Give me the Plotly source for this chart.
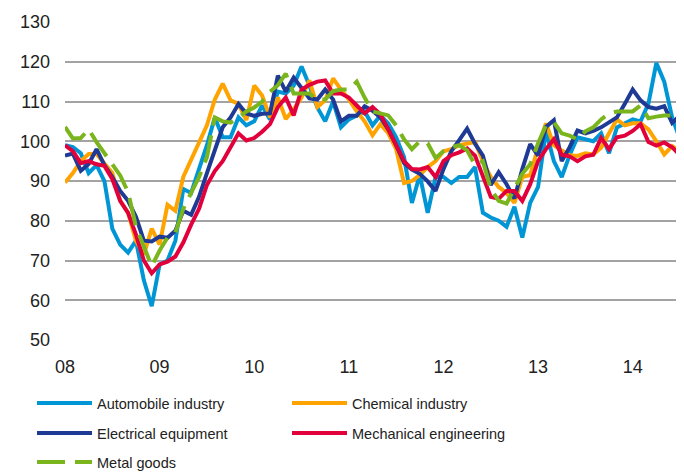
import plotly.graph_objects as go

# Monthly index values, Jan 2008 - Jul 2014
month_index = list(range(79))
tick_positions = [0, 12, 24, 36, 48, 60, 72]
tick_labels = ["08", "09", "10", "11", "12", "13", "14"]

automobile = [99, 98.5, 97, 92, 94, 90, 78, 74, 72, 75, 65, 58.5,
              69, 70, 75, 88, 87, 93, 99, 106, 101, 101, 106, 104,
              105, 109, 105.5, 112.5, 112, 114, 118.8, 114, 108.5, 105, 110, 103.5,
              105.5, 106.5, 107.5, 104, 106.5, 104.5, 101, 96, 84.5, 91.5, 82, 91,
              91, 89.5, 91, 91, 93.5, 82, 80.8, 80, 78.5, 83.5, 75.8, 84.5,
              88.5, 102.5, 95, 91, 96.5, 101, 100.5, 100, 102, 97, 103.5, 104.5,
              105.5, 105, 109.5, 119.7, 115, 106, 100.5]

chemical = [89.6, 92, 95, 96.8, 96.8, 94.5, 92, 85, 82, 75, 71.5, 78,
            74, 84, 82.5, 91, 95.5, 100, 104, 110.5, 114.5, 110.3, 109.4, 105.3,
            114, 111.5, 106, 111, 105.6, 108, 111, 115.3, 108.6, 110.3, 115.8, 113,
            110.5, 107.5, 105, 101.5, 104.3, 102, 98, 89.5, 90, 91.5, 93.5, 95,
            97.5, 98, 99, 99.4, 99.8, 95, 91, 88.5, 87, 84.5, 91, 91.5,
            98.5, 104.5, 99, 97.7, 96.5, 96.3, 97, 96.7, 98.4, 102, 105.5, 104,
            104.5, 104.5, 103, 100, 96.7, 98.8, 97.5]

electrical = [96.4, 96.9, 92.6, 94.3, 98, 94, 91, 87.5, 85, 81, 75, 74.8,
              76, 75.7, 77.5, 82.5, 81.5, 86, 92, 97.5, 103.5, 106, 109.4, 107,
              106.4, 106.9, 107, 116.5, 112.5, 116, 113.5, 110.8, 110.5, 113, 110.5, 105,
              106.4, 106.4, 108.8, 107.7, 106, 103, 99, 94.5, 92.9, 91.8, 89.9, 87.5,
              93, 97.5, 100.3, 103.2, 99.4, 96.4, 89, 92.2, 89.2, 85.6, 93, 99.3,
              96.4, 103.6, 105.3, 95, 98.5, 102.7, 102, 102.6, 103.5, 104.7, 106, 109.4,
              113, 110.3, 108.6, 108.2, 108.8, 104.6, 106.5]

mechanical = [99, 97.5, 94.5, 95, 94.2, 93.8, 90.5, 85, 82, 76.5, 70, 66.8,
              69, 69.7, 71, 74.5, 79, 83, 89, 92.5, 95, 98.5, 102, 100.2,
              100.8, 102.4, 104.3, 108.6, 111, 106.5, 113, 114.2, 115, 115.3, 112, 112,
              111, 109, 107, 108.6, 106.8, 103, 99, 95, 93, 92.9, 93.5, 91,
              95, 96.5, 97.2, 98.2, 96.4, 91.4, 86, 85.5, 87.5, 87.5, 85, 89.2,
              95, 98, 100.5, 96.6, 96.2, 95, 96.2, 96.6, 100.8, 98, 101, 101.4,
              102.6, 104.3, 99.8, 98.9, 99.7, 98.5, 96.5]

metal = [103.6, 100.7, 100.8, 103, 99.8, 97, 94, 91.4, 87.2, 78.5, 73.5, 68.6,
         72.5, 75.8, 77, 83, 87, 91, 96, 106, 105, 104.7, 106, 107.5,
         108.5, 110, 112.5, 114.1, 117, 112, 112, 112, 110.5, 110.5, 112.6, 113,
         113, 115, 111, 107.5, 107, 106.5, 104, 100.5, 98, 100, 99.5, 95.8,
         97.5, 98.5, 99, 97.7, 94, 95, 88, 85, 84.3, 88, 91.8, 94.2,
         99.5, 104, 104.8, 102, 101.4, 100.5, 102.5, 103.5, 105.5, 107, 107.5, 107.5,
         107.5, 109, 105.8, 106.2, 106.5, 106.5, 107]

series = [
    ("Automobile industry", automobile, "#0096D6", "solid", "legend"),
    ("Chemical industry", chemical, "#FFA300", "solid", "legend"),
    ("Electrical equipment", electrical, "#1E3A94", "solid", "legend2"),
    ("Mechanical engineering", mechanical, "#E2003C", "solid", "legend2"),
    ("Metal goods", metal, "#7AB51D", "28px,10px", "legend3"),
]

fig = go.Figure()
for name, vals, color, dash, leg in series:
    fig.add_trace(go.Scatter(
        x=month_index, y=vals, name=name, mode="lines",
        line=dict(color=color, width=4, dash=dash),
        legend=leg,
    ))

legend_font = dict(family="Liberation Sans, Arial", size=14.5, color="#222222")
common_legend = dict(orientation="h", xanchor="left", yanchor="middle",
                     entrywidth=185, entrywidthmode="pixels", itemwidth=55,
                     font=legend_font, bgcolor="rgba(0,0,0,0)", borderwidth=0)

# page has an 8px body margin; the figure is sized to fit the 684x473 window
def paper_y(py):
    return (340 - py) / 318.0

lx = (32 - 65) / 615.0

fig.update_layout(
    width=676, height=465,
    margin=dict(l=57, r=4, t=14, b=133, autoexpand=False),
    paper_bgcolor="white", plot_bgcolor="white",
    font=dict(family="Liberation Sans, Arial", size=18, color="#222222"),
    showlegend=True,
    legend=dict(common_legend, x=lx, y=paper_y(403)),
    legend2=dict(common_legend, x=lx, y=paper_y(433)),
    legend3=dict(common_legend, x=lx, y=paper_y(462)),
    xaxis=dict(range=[0, 78], tickmode="array", tickvals=tick_positions, ticktext=tick_labels,
               showgrid=False, zeroline=False, showline=False, ticks="",
               ticklabelstandoff=14, tickfont=dict(size=18, color="#222222")),
    yaxis=dict(range=[50, 130], dtick=10, showgrid=True, gridcolor="#A3A3A3", gridwidth=1.5,
               zeroline=False, showline=False, ticks="", ticklabelstandoff=14,
               tickfont=dict(size=18, color="#222222")),
)

fig.write_html("out.html")
